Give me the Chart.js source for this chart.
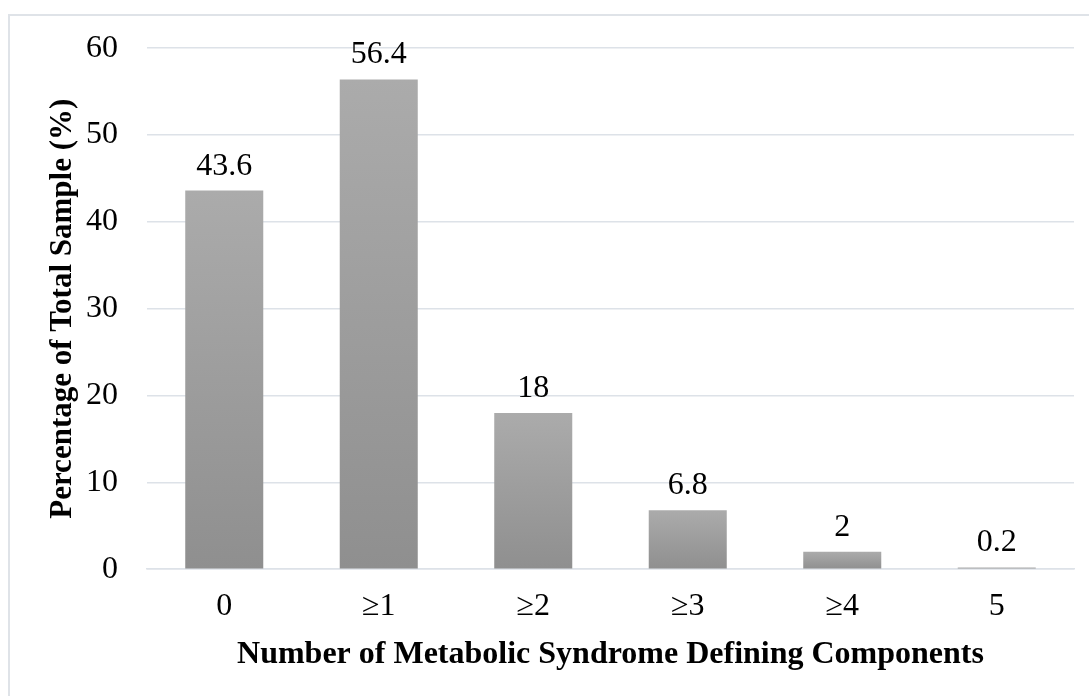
<!DOCTYPE html>
<html>
<head>
<meta charset="utf-8">
<script src="https://cdn.jsdelivr.net/npm/chart.js@4/dist/chart.umd.min.js"></script>
<style>
  html, body { margin: 0; padding: 0; background: #ffffff; }
  #wrap { width: 1089px; height: 696px; position: relative; }
</style>
</head>
<body>
<div id="wrap"><canvas id="grafic"></canvas></div>
<script>
const categories = ['0', '\u22651', '\u22652', '\u22653', '\u22654', '5'];
const percentValues = [43.6, 56.4, 18, 6.8, 2, 0.2];
const percentLabels = ['43.6', '56.4', '18', '6.8', '2', '0.2'];
const yTicks = [0, 10, 20, 30, 40, 50, 60];

const serif = 'Liberation Serif';
const gridColor = '#dde2e8';

// gradient per bar, light on top and darker at the base
function barGradient(context) {
    const chart = context.chart;
    if (!chart.chartArea || context.raw === undefined) return '#a0a0a0';
    const y = chart.scales.y;
    const top = y.getPixelForValue(context.raw);
    const bottom = y.getPixelForValue(0);
    if (!(bottom > top)) return '#909090';
    const g = chart.ctx.createLinearGradient(0, top, 0, bottom);
    g.addColorStop(0, '#ababab');
    g.addColorStop(1, '#8f8f8f');
    return g;
}

const frame = {
    id: 'frame',
    beforeDraw: function(chart) {
        const ctx = chart.ctx;
        ctx.save();
        ctx.strokeStyle = '#dfe3e8';
        ctx.lineWidth = 2;
        ctx.beginPath();
        ctx.moveTo(9, 700);
        ctx.lineTo(9, 15);
        ctx.lineTo(1095, 15);
        ctx.stroke();
        ctx.restore();
    }
};

const valueLabels = {
    id: 'valueLabels',
    afterDatasetsDraw: function(chart) {
        const ctx = chart.ctx;
        const meta = chart.getDatasetMeta(0);
        ctx.save();
        ctx.font = '32px "' + serif + '"';
        ctx.fillStyle = '#000000';
        ctx.textAlign = 'center';
        ctx.textBaseline = 'alphabetic';
        meta.data.forEach(function(bar, i) {
            ctx.fillText(percentLabels[i], bar.x, bar.y - 16);
        });
        ctx.restore();
    }
};

const ctx = document.getElementById('grafic').getContext('2d');

new Chart(ctx, {
    type: 'bar',
    data: {
        labels: categories,
        datasets: [{
            label: 'Percentage',
            data: percentValues,
            backgroundColor: barGradient,
            borderWidth: 0,
            categoryPercentage: 1,
            barPercentage: 0.505
        }]
    },
    options: {
        responsive: true,
        maintainAspectRatio: false,
        animation: false,
        layout: {
            padding: { top: 32, left: 44, right: 15, bottom: 22 }
        },
        plugins: {
            legend: { display: false },
            tooltip: { enabled: false }
        },
        scales: {
            x: {
                grid: { display: false },
                border: { display: true, color: gridColor, width: 1.5 },
                ticks: {
                    color: '#000000',
                    font: { family: serif, size: 32 },
                    padding: 10
                },
                title: {
                    display: true,
                    text: 'Number of Metabolic Syndrome Defining Components',
                    color: '#000000',
                    font: { family: serif, size: 32, weight: 'bold' },
                    padding: { top: 0, bottom: 0 }
                }
            },
            y: {
                min: 0,
                max: 60,
                afterBuildTicks: function(scale) {
                    scale.ticks = yTicks.map(function(v) { return { value: v }; });
                },
                afterFit: function(scale) {
                    scale.width = 103;
                },
                grid: { color: gridColor, lineWidth: 1.5, drawTicks: false },
                border: { display: false },
                ticks: {
                    color: '#000000',
                    font: { family: serif, size: 32 },
                    padding: 29
                },
                title: {
                    display: true,
                    text: 'Percentage of Total Sample (%)',
                    color: '#000000',
                    font: { family: serif, size: 31, weight: 'bold' },
                    padding: { top: 0, bottom: 4 }
                }
            }
        }
    },
    plugins: [frame, valueLabels]
});
</script>
</body>
</html>
